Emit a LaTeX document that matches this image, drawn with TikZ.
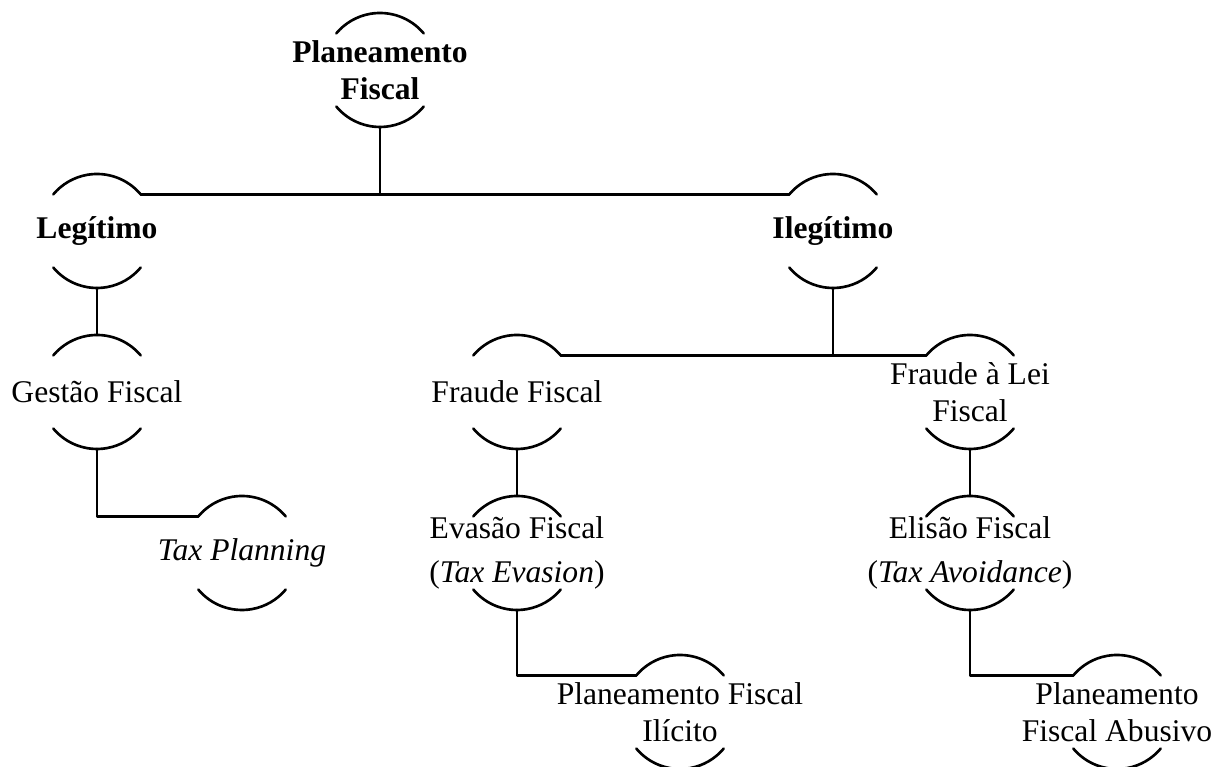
\documentclass[tikz,border=0pt]{standalone}
\usepackage{fontspec}
\setmainfont{Liberation Serif}

\begin{document}
\begin{tikzpicture}[x=0.38pt,y=0.38pt,line width=1pt,line cap=round,line join=round,
  hub/.style={circle,minimum size=43.32pt,inner sep=0pt,outer sep=0pt},
  every label/.style={font=\rmfamily\fontsize{12}{14}\selectfont,align=center,inner sep=0pt}]
\useasboundingbox (0,0) rectangle (1216,767);
% nodes
\node[hub,label={center:\textbf{Planeamento}\\\textbf{Fiscal}}] (plan) at (380,697) {};
\node[hub,label={center:\textbf{Legítimo}}] (leg) at (97,536) {};
\node[hub,label={center:\textbf{Ilegítimo}}] (ileg) at (833,536) {};
\node[hub,label={center:Gestão Fiscal}] (gest) at (97,375) {};
\node[hub,label={center:\textit{Tax Planning}}] (taxp) at (242,214) {};
\node[hub,label={center:Fraude Fiscal}] (fraude) at (517,375) {};
\node[hub,label={center:Fraude à Lei\\Fiscal}] (lei) at (970,375) {};
\node[hub,label={center:Evasão Fiscal\\[3pt](\textit{Tax Evasion})}] (evas) at (517,214) {};
\node[hub,label={center:Elisão Fiscal\\[3pt](\textit{Tax Avoidance})}] (elis) at (970,214) {};
\node[hub,label={center:Planeamento Fiscal\\Ilícito}] (pfi) at (680,55) {};
\node[hub,label={center:Planeamento\\Fiscal Abusivo}] (pfa) at (1117,55) {};
% arcs above and below each text
\foreach \n in {plan,leg,ileg,gest,taxp,fraude,lei,evas,elis,pfi,pfa} {
  \draw (\n.40) arc[start angle=40,end angle=140,radius=21.66pt];
  \draw (\n.220) arc[start angle=220,end angle=320,radius=21.66pt];
}
% connectors
\draw (leg.40) -- (ileg.140);
\draw (plan.south) -- (plan.south |- leg.40);
\draw (leg.south) -- (gest.north);
\draw (gest.south) |- (taxp.140);
\draw (fraude.40) -- (lei.140);
\draw (ileg.south) -- (ileg.south |- fraude.40);
\draw (fraude.south) -- (evas.north);
\draw (evas.south) |- (pfi.140);
\draw (lei.south) -- (elis.north);
\draw (elis.south) |- (pfa.140);
\end{tikzpicture}
\end{document}
